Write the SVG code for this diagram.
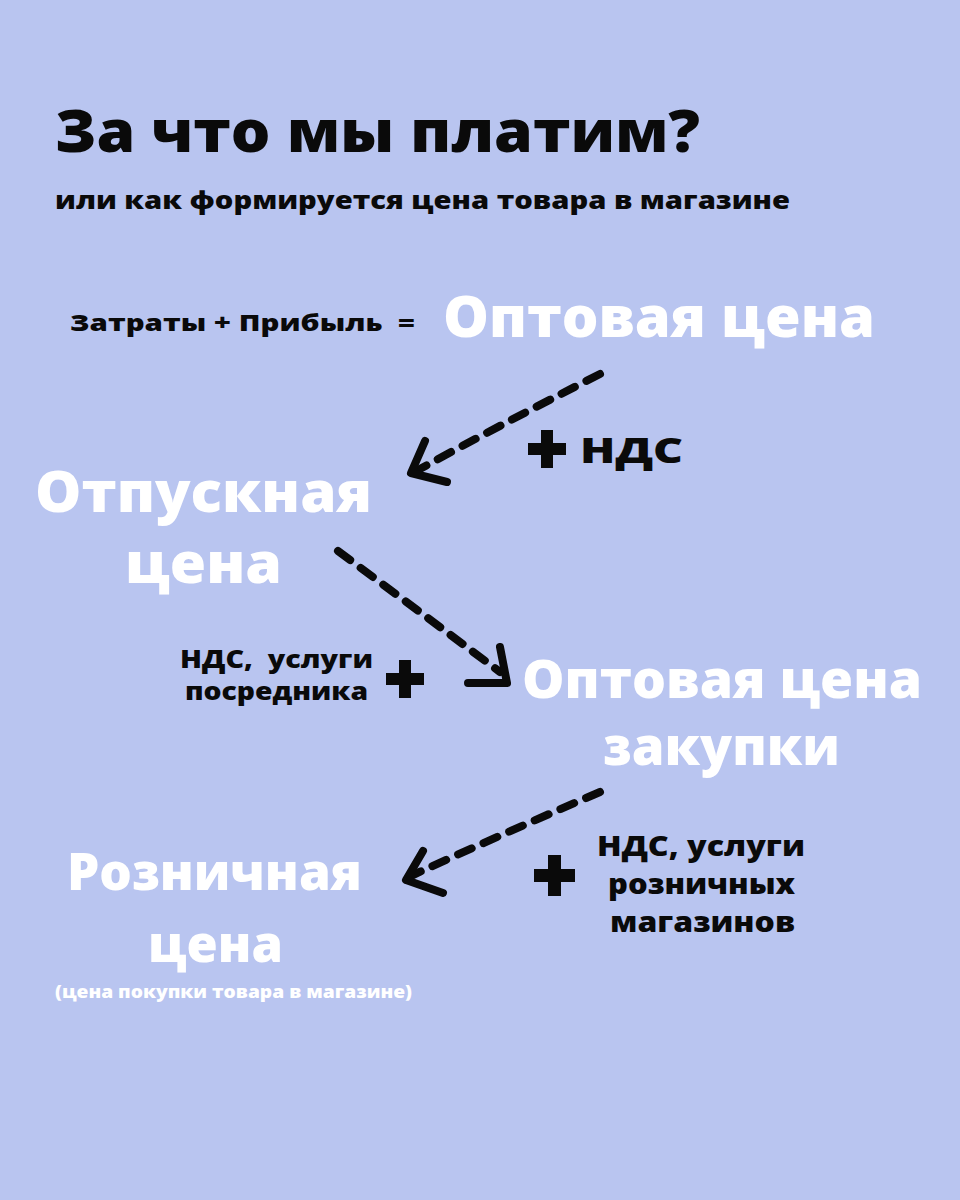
<svg xmlns="http://www.w3.org/2000/svg" width="960" height="1200" viewBox="0 0 960 1200" xml:space="preserve">
<style>
text{font-family:"Open Sans","Noto Sans","DejaVu Sans",sans-serif;font-weight:800;white-space:pre}
.dk{fill:#0a0a0a}
.wh{fill:#ffffff}
.dash{fill:none;stroke:#0a0a0a;stroke-width:8;stroke-linecap:round;stroke-dasharray:15 13}
.head{fill:none;stroke:#0a0a0a;stroke-width:8;stroke-linecap:round;stroke-linejoin:round}
.plus{fill:#0a0a0a}
</style>
<rect width="960" height="1200" fill="#B9C5F0"/>
<g id="title">
<text class="dk" x="55" y="152" font-size="58" textLength="645" lengthAdjust="spacingAndGlyphs">За что мы платим?</text>
<text class="dk" x="55" y="209" font-size="24" textLength="735" lengthAdjust="spacingAndGlyphs">или как формируется цена товара в магазине</text>
</g>
<g id="formula">
<text class="dk" x="70" y="331" font-size="22" textLength="345" lengthAdjust="spacingAndGlyphs">Затраты + Прибыль  =</text>
</g>
<g id="node-opt">
<text class="wh" x="443" y="337" font-size="56" textLength="432" lengthAdjust="spacingAndGlyphs">Оптовая цена</text>
</g>
<g id="node-otp">
<text class="wh" x="35" y="512" font-size="56" textLength="337" lengthAdjust="spacingAndGlyphs">Отпускная</text>
<text class="wh" x="125" y="583" font-size="56" textLength="157" lengthAdjust="spacingAndGlyphs">цена</text>
</g>
<g id="node-zak">
<text class="wh" x="522" y="698" font-size="53" textLength="400" lengthAdjust="spacingAndGlyphs">Оптовая цена</text>
<text class="wh" x="603" y="765" font-size="53" textLength="237" lengthAdjust="spacingAndGlyphs">закупки</text>
</g>
<g id="node-roz">
<text class="wh" x="67" y="890" font-size="51" textLength="295" lengthAdjust="spacingAndGlyphs">Розничная</text>
<text class="wh" x="148" y="962" font-size="51" textLength="135" lengthAdjust="spacingAndGlyphs">цена</text>
<text class="wh" x="55" y="998" font-size="17" textLength="357" lengthAdjust="spacingAndGlyphs">(цена покупки товара в магазине)</text>
</g>
<g id="connectors">
<path class="dash" d="M600 374 Q500 425 418 470"/>
<path class="head" d="M425 441 L411 473 L447 482"/>
<path class="dash" d="M338 551 Q420 612 500 672"/>
<path class="head" d="M500 647 L507 683 L468 683"/>
<path class="dash" d="M600 792 Q500 835 413 875"/>
<path class="head" d="M423 851 L406 880 L443 893"/>
</g>
<g id="label-nds1">
<path class="plus" d="M541 430 h12 v13 h13 v12 h-13 v13 h-12 v-13 h-13 v-12 h13 z"/>
<text class="dk" x="580" y="463" font-size="35" textLength="103" lengthAdjust="spacingAndGlyphs">НДС</text>
</g>
<g id="label-nds2">
<text class="dk" x="180" y="668" font-size="24" textLength="193" lengthAdjust="spacingAndGlyphs">НДС,  услуги</text>
<text class="dk" x="185" y="700" font-size="24" textLength="183" lengthAdjust="spacingAndGlyphs">посредника</text>
<path class="plus" d="M399 660 h12 v13 h13 v12 h-13 v13 h-12 v-13 h-13 v-12 h13 z"/>
</g>
<g id="label-nds3">
<path class="plus" d="M548 855 h13 v14 h14 v13 h-14 v14 h-13 v-14 h-14 v-13 h14 z"/>
<text class="dk" x="597" y="856" font-size="28" textLength="208" lengthAdjust="spacingAndGlyphs">НДС, услуги</text>
<text class="dk" x="608" y="894" font-size="28" textLength="187" lengthAdjust="spacingAndGlyphs">розничных</text>
<text class="dk" x="610" y="932" font-size="28" textLength="185" lengthAdjust="spacingAndGlyphs">магазинов</text>
</g>
</svg>
